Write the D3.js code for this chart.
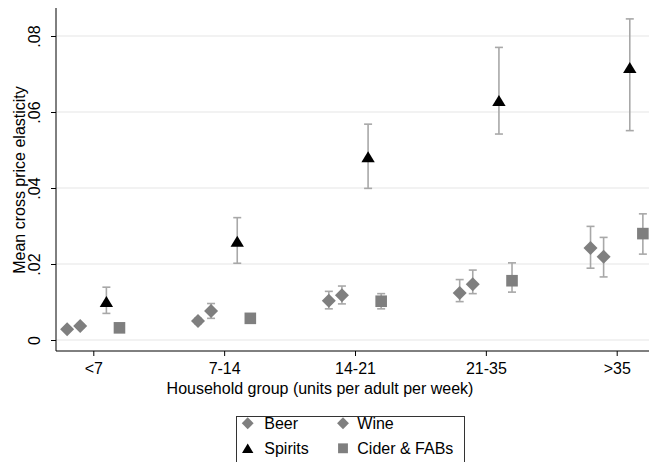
<!DOCTYPE html>
<html>
<head>
<meta charset="utf-8">
<script src="https://cdn.jsdelivr.net/npm/d3@7"></script>
<style>
  html, body { margin: 0; padding: 0; background: #fff; }
  svg { display: block; font-family: "Liberation Sans", Arial, sans-serif; }
</style>
</head>
<body>
<svg id="chart" width="649" height="462"></svg>
<script>
// Household drinking groups (units per adult per week)
const groups = ["<7", "7-14", "14-21", "21-35", ">35"];

// Mean cross price elasticity with lower / upper confidence bounds
const beer      = [0.0028, 0.0050, 0.0103, 0.0124, 0.0242];
const beerLo    = [0.0024, 0.0043, 0.0082, 0.0101, 0.0189];
const beerHi    = [0.0032, 0.0057, 0.0128, 0.0159, 0.0299];

const wine      = [0.0037, 0.0076, 0.0118, 0.0147, 0.0219];
const wineLo    = [0.0031, 0.0057, 0.0095, 0.0122, 0.0166];
const wineHi    = [0.0043, 0.0096, 0.0142, 0.0184, 0.0270];

const spirits   = [0.0101, 0.0260, 0.0482, 0.0630, 0.0717];
const spiritsLo = [0.0070, 0.0202, 0.0399, 0.0542, 0.0551];
const spiritsHi = [0.0139, 0.0322, 0.0568, 0.0770, 0.0845];

const cider     = [0.0032, 0.0057, 0.0102, 0.0156, 0.0280];
const ciderLo   = [0.0028, 0.0050, 0.0082, 0.0126, 0.0226];
const ciderHi   = [0.0036, 0.0064, 0.0122, 0.0203, 0.0332];

const yTicks = [0, 0.02, 0.04, 0.06, 0.08];
const yTickLabels = ["0", ".02", ".04", ".06", ".08"];

const series = [
  { name: "Beer",         values: beer,    lo: beerLo,    hi: beerHi,    shape: "diamond",  color: "#7f7f7f", offset: -0.2 },
  { name: "Wine",         values: wine,    lo: wineLo,    hi: wineHi,    shape: "diamond",  color: "#7f7f7f", offset: -0.1 },
  { name: "Spirits",      values: spirits, lo: spiritsLo, hi: spiritsHi, shape: "triangle", color: "#000000", offset:  0.1 },
  { name: "Cider & FABs", values: cider,   lo: ciderLo,   hi: ciderHi,   shape: "square",   color: "#7f7f7f", offset:  0.2 }
];

const svg = d3.select("#chart");
const W = 649;
const plot = { left: 56, top: 8, bottom: 351, right: W };

const x = d3.scaleLinear().domain([0, groups.length - 1]).range([93.3, 616.7]);
const y = d3.scaleLinear().domain([0, 0.08]).range([340, 36]);

// Marker shapes
function markerPath(shape, s) {
  if (shape === "diamond") {
    const h = 7 * s;
    return `M0,${-h}L${h},0L0,${h}L${-h},0Z`;
  }
  if (shape === "square") {
    const h = 5.8 * s;
    return `M${-h},${-h}H${h}V${h}H${-h}Z`;
  }
  // triangle, centred on its bounding box
  const w = 6.7 * s, hh = 5.5 * s;
  return `M0,${-hh}L${w},${hh}L${-w},${hh}Z`;
}

// Gridlines
svg.append("g")
  .selectAll("line")
  .data(yTicks)
  .join("line")
  .attr("x1", plot.left).attr("x2", plot.right)
  .attr("y1", d => y(d)).attr("y2", d => y(d))
  .attr("stroke", "#e6e6e6")
  .attr("stroke-width", 1.2);

// Y axis
const yAxis = d3.axisLeft(y)
  .tickValues(yTicks)
  .tickFormat((d, i) => yTickLabels[i])
  .tickSize(5)
  .tickPadding(0);
const gy = svg.append("g")
  .attr("transform", `translate(${plot.left},0)`)
  .call(yAxis);
gy.select(".domain").remove();
gy.selectAll(".tick line").attr("stroke", "#000");
gy.selectAll(".tick text")
  .attr("x", null).attr("dy", null)
  .attr("transform", "translate(-16,0) rotate(-90)")
  .attr("text-anchor", "middle")
  .attr("font-size", 16)
  .attr("fill", "#000");
svg.append("line")
  .attr("x1", plot.left).attr("x2", plot.left)
  .attr("y1", plot.top).attr("y2", plot.bottom)
  .attr("stroke", "#000").attr("stroke-width", 1);

// X axis
const xAxis = d3.axisBottom(x)
  .tickValues(d3.range(groups.length))
  .tickFormat(i => groups[i])
  .tickSize(5)
  .tickPadding(0);
const gx = svg.append("g")
  .attr("transform", `translate(0,${plot.bottom})`)
  .call(xAxis);
gx.select(".domain").remove();
gx.selectAll(".tick line").attr("stroke", "#000");
gx.selectAll(".tick text")
  .attr("y", 23).attr("dy", null)
  .attr("font-size", 16)
  .attr("fill", "#000");
svg.append("line")
  .attr("x1", plot.left).attr("x2", plot.right)
  .attr("y1", plot.bottom).attr("y2", plot.bottom)
  .attr("stroke", "#000").attr("stroke-width", 1);

// Axis titles
svg.append("text")
  .attr("transform", `translate(25,${180}) rotate(-90)`)
  .attr("text-anchor", "middle")
  .attr("font-size", 16)
  .text("Mean cross price elasticity");
svg.append("text")
  .attr("x", 320).attr("y", 394)
  .attr("text-anchor", "middle")
  .attr("font-size", 16)
  .text("Household group (units per adult per week)");

// Error bars
const capHalf = 4;
series.forEach(s => {
  const g = svg.append("g").attr("stroke", "#a8a8a8").attr("stroke-width", 1.6).attr("fill", "none");
  s.values.forEach((v, i) => {
    const cx = x(i + s.offset);
    g.append("line").attr("x1", cx).attr("x2", cx).attr("y1", y(s.lo[i])).attr("y2", y(s.hi[i]));
    g.append("line").attr("x1", cx - capHalf).attr("x2", cx + capHalf).attr("y1", y(s.lo[i])).attr("y2", y(s.lo[i]));
    g.append("line").attr("x1", cx - capHalf).attr("x2", cx + capHalf).attr("y1", y(s.hi[i])).attr("y2", y(s.hi[i]));
  });
});

// Markers
series.forEach(s => {
  svg.append("g")
    .selectAll("path")
    .data(s.values)
    .join("path")
    .attr("transform", (v, i) => `translate(${x(i + s.offset)},${y(v)})`)
    .attr("d", markerPath(s.shape, 1))
    .attr("fill", s.color);
});

// Legend
const legend = svg.append("g");
legend.append("rect")
  .attr("x", 236.5).attr("y", 416.5)
  .attr("width", 228).attr("height", 60)
  .attr("fill", "#fff")
  .attr("stroke", "#333")
  .attr("stroke-width", 1);
const legendPos = [
  { sx: 247.7, tx: 264.3, cy: 423.3 },
  { sx: 343.0, tx: 357.3, cy: 423.3 },
  { sx: 247.7, tx: 264.3, cy: 448.3 },
  { sx: 343.0, tx: 357.3, cy: 448.3 }
];
series.forEach((s, k) => {
  const p = legendPos[k];
  legend.append("path")
    .attr("transform", `translate(${p.sx},${p.cy})`)
    .attr("d", markerPath(s.shape, 0.85))
    .attr("fill", s.color);
  legend.append("text")
    .attr("x", p.tx).attr("y", p.cy + 6)
    .attr("font-size", 16)
    .text(s.name);
});
</script>
</body>
</html>
